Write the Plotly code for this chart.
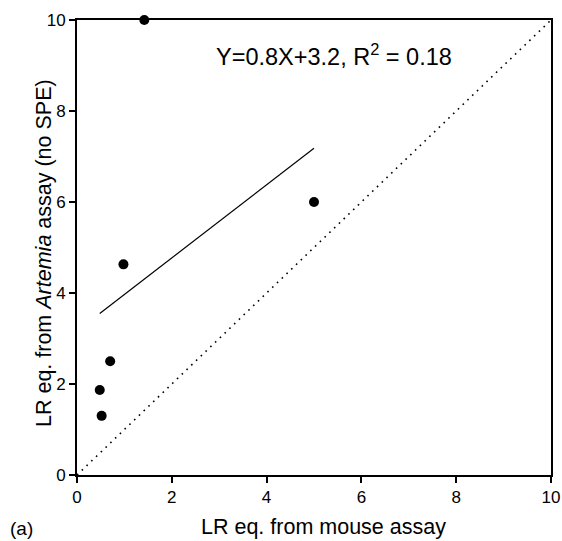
import numpy as np
import plotly.graph_objects as go

# LR equivalents
mouse_lr = [1.42, 5.0, 0.98, 0.70, 0.48, 0.52]
artemia_lr = [10.0, 6.0, 4.63, 2.50, 1.87, 1.30]
ticks = [0, 2, 4, 6, 8, 10]
identity = [0, 10]

slope, icpt = np.polyfit(mouse_lr, artemia_lr, 1)
fit_x = [min(mouse_lr), max(mouse_lr)]
fit_y = [slope * v + icpt for v in fit_x]

font = "Liberation Sans, Arial, sans-serif"

fig = go.Figure()
fig.add_trace(go.Scatter(x=identity, y=identity, mode="lines",
                         line=dict(color="black", width=1.6, dash="1.6px,5px"),
                         hoverinfo="skip"))
fig.add_trace(go.Scatter(x=fit_x, y=fit_y, mode="lines",
                         line=dict(color="black", width=1.2)))
fig.add_trace(go.Scatter(x=mouse_lr, y=artemia_lr, mode="markers",
                         marker=dict(color="black", size=10),
                         cliponaxis=False))

axis = dict(range=[0, 10], tickvals=ticks, showgrid=False, zeroline=False,
            showline=True, linecolor="black", linewidth=2, mirror=True,
            ticks="outside", ticklen=6, tickwidth=2, tickcolor="black",
            automargin=False, ticklabeloverflow="allow",
            tickfont=dict(family=font, size=17, color="black"))

txt = dict(family=font, color="black")
fig.update_layout(
    width=562, height=541,
    margin=dict(l=77, r=11, t=20, b=66),
    plot_bgcolor="white", paper_bgcolor="white",
    showlegend=False,
    font=txt,
    xaxis=axis,
    yaxis=axis,
    annotations=[
        dict(x=5.42, y=9.23, xref="x", yref="y", showarrow=False,
             text="Y=0.8X+3.2, R<sup>2</sup> = 0.18", font=dict(txt, size=23.5)),
        dict(x=0.52, y=0, xref="paper", yref="paper", showarrow=False,
             yanchor="bottom", yshift=-66,
             text="LR eq. from mouse assay", font=dict(txt, size=21.5)),
        dict(x=-0.099, y=0.488, xref="paper", yref="paper", showarrow=False,
             textangle=-90, text="LR eq. from <i>Artemia</i> assay (no SPE)",
             font=dict(txt, size=21.5)),
        dict(x=-0.146, y=0, xref="paper", yref="paper", showarrow=False,
             xanchor="left", yanchor="bottom", yshift=-66,
             text="(a)", font=dict(txt, size=19)),
    ],
)

# drop the default body margin so the figure fills the window exactly
fig.write_html("out.html", config={"displayModeBar": False},
               post_script="document.body.style.margin='0';"
                           "document.body.style.overflow='hidden';")
